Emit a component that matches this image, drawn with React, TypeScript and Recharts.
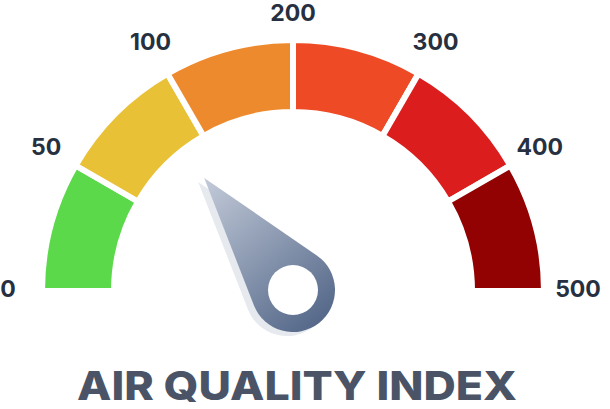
import React from "react";
import { PieChart, Pie, Cell } from "recharts";

const bandLabels = ["Good", "Moderate", "Unhealthy for Sensitive", "Unhealthy", "Very Unhealthy", "Hazardous"];
const bandSpans = [1, 1, 1, 1, 1, 1];
const bandColors = ["#5bd94a", "#e9c136", "#ed8a2d", "#ee4a25", "#dc1d1d", "#930202"];
const tickLabels = ["0", "50", "100", "200", "300", "400", "500"];
const tickValues = [0, 50, 100, 200, 300, 400, 500];
const needleValue = 86;
const title = "AIR QUALITY INDEX";

const W = 610;
const H = 409;
const CX = 293;
const CY = 291;
const RAD = Math.PI / 180;

const bandData = bandLabels.map((name, i) => ({ name, value: bandSpans[i] }));
const tickData = tickLabels.map((name) => ({ name, value: 1 }));

// needle position in band units (piecewise linear over tick values)
function needleUnits(v: number) {
  for (let i = 0; i < tickValues.length - 1; i++) {
    if (v >= tickValues[i] && v <= tickValues[i + 1]) {
      return i + (v - tickValues[i]) / (tickValues[i + 1] - tickValues[i]);
    }
  }
  return 0;
}
const nu = needleUnits(needleValue);
const needleData = [
  { name: "value", value: nu },
  { name: "rest", value: bandSpans.length - nu },
];

const renderTick = (props: any) => {
  const { cx, cy, midAngle, index } = props;
  const r = 285;
  const x = cx + r * Math.cos(-midAngle * RAD);
  let y = cy + r * Math.sin(-midAngle * RAD) - 2;
  y = Math.max(y, 13);
  return (
    <text
      x={x}
      y={y}
      textAnchor="middle"
      dominantBaseline="central"
      fill="#263040"
      fontFamily="Inter, 'Open Sans', sans-serif"
      fontWeight={700}
      fontSize={23}
    >
      {tickLabels[index]}
    </text>
  );
};

const renderNeedle = (props: any) => {
  const { cx, cy, endAngle, index } = props;
  if (index !== 0) return null;
  const a = endAngle * RAD;
  const len = 143;
  const R = 42;
  const hole = 25;
  const tx = cx + len * Math.cos(a);
  const ty = cy - len * Math.sin(a);
  const t = Math.acos(R / len);
  const p1x = cx + R * Math.cos(a + t);
  const p1y = cy - R * Math.sin(a + t);
  const p2x = cx + R * Math.cos(a - t);
  const p2y = cy - R * Math.sin(a - t);
  const d = `M ${tx} ${ty} L ${p1x} ${p1y} A ${R} ${R} 0 1 0 ${p2x} ${p2y} Z`;
  return (
    <g>
      <defs>
        <linearGradient id="needleGrad" gradientUnits="userSpaceOnUse" x1={tx} y1={ty} x2={cx + R * 0.7} y2={cy + R * 0.7}>
          <stop offset="0%" stopColor="#c3cbd9" />
          <stop offset="100%" stopColor="#56698a" />
        </linearGradient>
      </defs>
      <path d={d} fill="#e6e9ee" transform="translate(-6,4)" />
      <path d={d} fill="url(#needleGrad)" />
      <circle cx={cx} cy={cy} r={hole} fill="#ffffff" />
    </g>
  );
};

export default function App() {
  return (
    <div style={{ position: "absolute", left: 0, top: 0, width: W, height: H, background: "#ffffff" }}>
      <PieChart width={W} height={H} margin={{ top: 0, right: 0, bottom: 0, left: 0 }}>
        <Pie
          data={bandData}
          dataKey="value"
          cx={CX}
          cy={CY}
          startAngle={180}
          endAngle={0}
          innerRadius={179}
          outerRadius={251}
          stroke="#ffffff"
          strokeWidth={6}
          isAnimationActive={false}
        >
          {bandData.map((_, i) => (
            <Cell key={i} fill={bandColors[i]} />
          ))}
        </Pie>
        <Pie
          data={tickData}
          dataKey="value"
          cx={CX}
          cy={CY}
          startAngle={195}
          endAngle={-15}
          innerRadius={250}
          outerRadius={251}
          fill="none"
          stroke="none"
          label={renderTick}
          labelLine={false}
          isAnimationActive={false}
        />
        <Pie
          data={needleData}
          dataKey="value"
          cx={CX}
          cy={CY - 1}
          startAngle={180}
          endAngle={0}
          innerRadius={0}
          outerRadius={1}
          fill="none"
          stroke="none"
          label={renderNeedle}
          labelLine={false}
          isAnimationActive={false}
        />
      </PieChart>
      <svg width={W} height={H} style={{ position: "absolute", left: 0, top: 0, pointerEvents: "none" }}>
        <text
          x={297}
          y={400}
          textAnchor="middle"
          fill="#4a5466"
          fontFamily="Inter, 'Open Sans', sans-serif"
          fontWeight={800}
          fontSize={40}
          textLength={440}
          lengthAdjust="spacingAndGlyphs"
        >
          {title}
        </text>
      </svg>
    </div>
  );
}
